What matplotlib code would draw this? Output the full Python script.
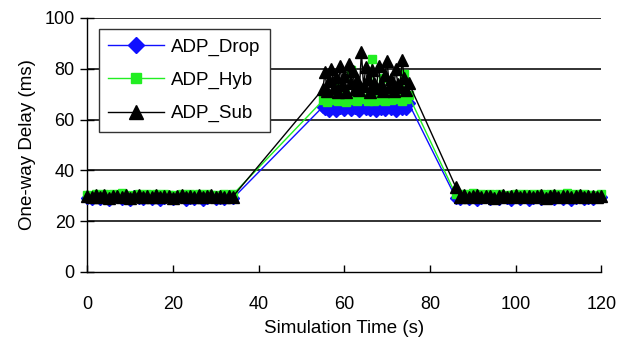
import matplotlib
matplotlib.use("Agg")
import matplotlib.pyplot as plt

plt.rcParams['font.family'] = ['Liberation Sans', 'DejaVu Sans']

# ---- data ----
t_left = [0, 1, 2, 3, 4, 5, 6, 7, 8, 9, 10, 11, 12, 13, 14, 15, 16, 17, 18, 19,
          20, 21, 22, 23, 24, 25, 26, 27, 28, 29, 30, 31, 32, 33, 34]
t_mid = [55, 55.5, 56, 56.5, 57, 57.5, 58, 58.5, 59, 59.5, 60, 60.5, 61, 61.5,
         62, 62.5, 63, 63.5, 64, 64.5, 65, 65.5, 66, 66.5, 67, 67.5, 68, 68.5,
         69, 69.5, 70, 70.5, 71, 71.5, 72, 72.5, 73, 73.5, 74, 74.5, 75]
t_right = [86, 87, 88, 89, 90, 91, 92, 93, 94, 95, 96, 97, 98, 99, 100, 101, 102,
           103, 104, 105, 106, 107, 108, 109, 110, 111, 112, 113, 114, 115, 116,
           117, 118, 119, 120]

drop_left = [29.2, 28.6, 29.5, 28.9, 29.8, 28.4, 29.1, 29.6, 28.7, 29.3, 28.5, 29.9,
             29.0, 28.6, 29.4, 28.8, 29.7, 28.3, 29.2, 29.5, 28.7, 29.0, 29.8, 28.5,
             29.3, 28.9, 29.6, 28.4, 29.1, 29.7, 28.8, 29.2, 28.6, 29.4, 29.0]
drop_mid = [65.0, 64.2, 66.1, 63.5, 65.4, 64.8, 63.2, 66.0, 64.5, 65.7, 63.8, 64.9,
            66.3, 63.6, 65.1, 64.4, 65.9, 63.3, 64.7, 66.2, 64.0, 65.5, 63.9, 64.6,
            66.4, 63.4, 65.2, 64.3, 65.8, 63.7, 64.9, 66.0, 64.1, 65.3, 63.5, 64.8,
            66.1, 64.2, 65.6, 64.0, 66.5]
drop_right = [29.3, 28.7, 29.5, 28.9, 29.8, 28.5, 29.2, 29.6, 28.6, 29.4, 28.8, 29.9,
              29.0, 28.5, 29.5, 28.9, 29.7, 28.4, 29.1, 29.6, 28.7, 29.2, 29.8, 28.6,
              29.4, 28.9, 29.5, 28.5, 29.2, 29.7, 28.8, 29.3, 28.6, 29.5, 29.4]

hyb_left = [30.4, 29.9, 30.7, 30.1, 30.5, 29.8, 30.6, 30.2, 30.9, 30.0, 30.4, 29.9,
            30.6, 30.3, 30.8, 30.1, 30.5, 29.9, 30.7, 30.2, 30.4, 30.0, 30.8, 30.3,
            30.6, 29.9, 30.5, 30.1, 30.7, 30.2, 30.4, 30.0, 30.6, 30.3, 30.5]
hyb_mid = [67.5, 68.2, 66.9, 69.0, 67.8, 68.5, 74.0, 67.2, 68.8, 67.6, 69.3, 67.0,
           68.1, 79.5, 67.7, 68.9, 67.3, 68.4, 72.5, 67.9, 68.6, 67.1, 69.1, 84.0,
           67.4, 68.3, 67.8, 68.7, 76.5, 67.2, 68.0, 69.2, 67.6, 68.4, 73.0, 67.9,
           68.8, 67.3, 78.0, 68.2, 69.5]
hyb_right = [30.5, 30.0, 30.7, 30.2, 30.9, 29.9, 30.5, 30.3, 30.8, 30.1, 30.6, 29.9,
             30.4, 30.2, 30.8, 30.0, 30.6, 30.3, 30.7, 30.1, 30.5, 29.9, 30.8, 30.2,
             30.6, 30.0, 30.9, 30.3, 30.5, 30.1, 30.7, 30.2, 30.4, 30.0, 30.6]

sub_left = [29.8, 29.4, 30.1, 29.6, 30.3, 29.2, 29.9, 30.0, 29.5, 30.2, 29.3, 29.8,
            30.1, 29.6, 29.9, 29.4, 30.2, 29.5, 29.8, 30.0, 29.3, 29.9, 30.2, 29.6,
            29.8, 29.4, 30.1, 29.5, 29.9, 30.2, 29.6, 29.8, 29.4, 30.0, 29.7]
sub_mid = [72.0, 78.5, 71.2, 75.0, 80.0, 72.5, 76.8, 71.0, 81.0, 73.5, 77.0, 70.8,
           82.0, 74.2, 79.0, 72.0, 75.5, 71.5, 86.5, 73.0, 80.5, 76.0, 70.9, 79.5,
           74.5, 72.2, 81.0, 73.8, 71.3, 77.5, 83.0, 72.6, 75.8, 71.1, 80.0, 74.0,
           72.8, 83.5, 76.2, 71.6, 74.5]
sub_right = [33.5, 29.6, 30.1, 29.4, 29.9, 30.2, 29.5, 29.8, 30.0, 29.3, 29.9, 30.1,
             29.6, 29.8, 30.2, 29.4, 29.9, 30.0, 29.5, 29.8, 30.1, 29.3, 29.9, 30.2,
             29.6, 29.8, 30.0, 29.4, 29.9, 30.1, 29.5, 29.8, 30.0, 29.6, 29.9]

x_ticks = [0, 20, 40, 60, 80, 100, 120]
y_ticks = [0, 20, 40, 60, 80, 100]

time_s = t_left + t_mid + t_right
series = [
    ("ADP_Drop", drop_left + drop_mid + drop_right, "#1010ff", "D", 6.5),
    ("ADP_Hyb", hyb_left + hyb_mid + hyb_right, "#22ee22", "s", 5.5),
    ("ADP_Sub", sub_left + sub_mid + sub_right, "#000000", "^", 8.0),
]

fig = plt.figure(figsize=(6.37, 3.43), dpi=100)
ax = fig.add_axes([0.137, 0.207, 0.807, 0.741])

for name, vals, col, mk, ms in series:
    ax.plot(time_s, vals, color=col, lw=1.0, marker=mk, markersize=ms,
            markeredgecolor=col, markerfacecolor=col, label=name, clip_on=False,
            zorder=3)

ax.set_xlim(0, 120)
ax.set_ylim(0, 100)
ax.set_xticks(x_ticks)
ax.set_yticks(y_ticks)
for y in y_ticks[1:]:
    ax.axhline(y, color="#222222", lw=1.3, zorder=1)

for s in ["top", "right"]:
    ax.spines[s].set_visible(False)
ax.spines["left"].set_linewidth(1.0)
ax.spines["bottom"].set_linewidth(1.0)
ax.tick_params(axis="y", direction="inout", length=10, width=1, labelsize=13, pad=4)
ax.tick_params(axis="x", direction="in", length=5, width=1, labelsize=13, pad=17)

ax.set_xlabel("Simulation Time (s)", fontsize=13.5, labelpad=5)
ax.set_ylabel("One-way Delay (ms)", fontsize=13.5, labelpad=6)

leg = ax.legend(loc="upper left", bbox_to_anchor=(0.022, 0.955), fontsize=13.5,
                handlelength=3.0, labelspacing=0.85, borderpad=0.5,
                fancybox=False, framealpha=1, edgecolor="#333333", markerscale=1.25,
                handletextpad=0.35, borderaxespad=0)
leg.get_frame().set_linewidth(1.0)
leg.set_zorder(5)

fig.savefig("out.png", dpi=100)
